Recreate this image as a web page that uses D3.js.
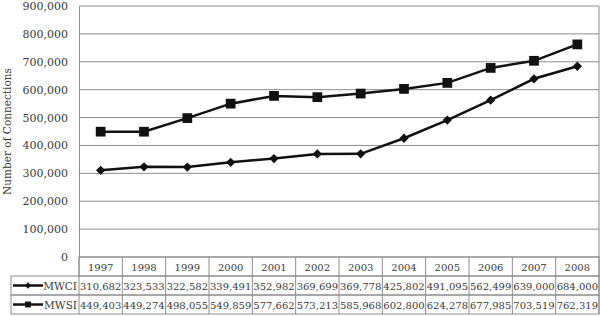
<!DOCTYPE html>
<html>
<head>
<meta charset="utf-8">
<script src="https://cdn.jsdelivr.net/npm/d3@7"></script>
<style>
body { margin: 0; background: #fff; }
text { font-family: "DejaVu Serif", serif; fill: #3a3a3a; }
</style>
</head>
<body>
<script>
var years = ["1997", "1998", "1999", "2000", "2001", "2002", "2003", "2004", "2005", "2006", "2007", "2008"];
var mwci = [310682, 323533, 322582, 339491, 352982, 369699, 369778, 425802, 491095, 562499, 639000, 684000];
var mwsi = [449403, 449274, 498055, 549859, 577662, 573213, 585968, 602800, 624278, 677985, 703519, 762319];
var yTicks = [0, 100000, 200000, 300000, 400000, 500000, 600000, 700000, 800000, 900000];

var width = 600, height = 317;
var margin = {top: 6, left: 79, right: 1, bottom: 60};
var plotW = width - margin.left - margin.right;
var plotH = 257 - margin.top;
var rowH = 19;
var fmt = d3.format(",");

var svg = d3.select("body").append("svg")
    .attr("width", width)
    .attr("height", height);

var g = svg.append("g")
    .attr("transform", "translate(" + margin.left + "," + margin.top + ")");

var xScale = d3.scaleBand()
    .domain(years)
    .range([0, plotW]);

var yScale = d3.scaleLinear()
    .domain([0, 900000])
    .range([plotH, 0]);

// gridlines
g.append("g")
    .selectAll("line")
    .data(yTicks)
    .enter()
    .append("line")
        .attr("x1", 0)
        .attr("x2", plotW)
        .attr("y1", d => yScale(d))
        .attr("y2", d => yScale(d))
        .attr("stroke", "#8c8c8c")
        .attr("stroke-width", 1);

// y axis
var yAxisCall = d3.axisLeft(yScale)
    .tickValues(yTicks)
    .tickSize(0)
    .tickPadding(11)
    .tickFormat(fmt);

var yAxis = g.append("g").call(yAxisCall);
yAxis.select(".domain").attr("stroke", "#8c8c8c");
yAxis.selectAll("text")
    .style("font-size", "11px")
    .style("font-family", "DejaVu Serif")
    .attr("fill", "#3a3a3a");

g.append("line")
    .attr("x1", plotW).attr("x2", plotW)
    .attr("y1", 0).attr("y2", plotH)
    .attr("stroke", "#8c8c8c");

svg.append("text")
    .text("Number of Connections")
    .attr("text-anchor", "middle")
    .attr("transform", "translate(11," + (margin.top + plotH / 2) + ") rotate(-90)")
    .style("font-size", "10.5px");

// lines
var line = d3.line()
    .x((d, i) => xScale(years[i]) + xScale.bandwidth() / 2)
    .y(d => yScale(d));

g.append("path")
    .datum(mwci)
    .attr("d", line)
    .attr("fill", "none")
    .attr("stroke", "#111")
    .attr("stroke-width", 2.5);

g.append("path")
    .datum(mwsi)
    .attr("d", line)
    .attr("fill", "none")
    .attr("stroke", "#111")
    .attr("stroke-width", 2.5);

var diamond = d3.symbol().type(d3.symbolDiamond2).size(55);
var square = d3.symbol().type(d3.symbolSquare).size(95);

g.selectAll(".ci")
    .data(mwci)
    .enter()
    .append("path")
        .attr("class", "ci")
        .attr("d", diamond)
        .attr("fill", "#111")
        .attr("transform", (d, i) => "translate(" + (xScale(years[i]) + xScale.bandwidth() / 2) + "," + yScale(d) + ")");

g.selectAll(".si")
    .data(mwsi)
    .enter()
    .append("path")
        .attr("class", "si")
        .attr("d", square)
        .attr("fill", "#111")
        .attr("transform", (d, i) => "translate(" + (xScale(years[i]) + xScale.bandwidth() / 2) + "," + yScale(d) + ")");

// data table
var tb = svg.append("g")
    .attr("transform", "translate(" + margin.left + "," + (margin.top + plotH) + ")");
var legendLeft = 11 - margin.left;
var border = "#8c8c8c";

// header row
tb.append("rect")
    .attr("x", 0).attr("y", 0)
    .attr("width", plotW).attr("height", rowH)
    .attr("fill", "none").attr("stroke", border);

tb.append("g")
    .selectAll("line")
    .data(years)
    .enter()
    .append("line")
        .attr("x1", d => xScale(d)).attr("x2", d => xScale(d))
        .attr("y1", 0).attr("y2", rowH * 3)
        .attr("stroke", border);

tb.append("line")
    .attr("x1", plotW).attr("x2", plotW)
    .attr("y1", 0).attr("y2", rowH * 3)
    .attr("stroke", border);

tb.selectAll(".yr")
    .data(years)
    .enter()
    .append("text")
        .attr("class", "yr")
        .text(d => d)
        .attr("x", d => xScale(d) + xScale.bandwidth() / 2)
        .attr("y", rowH / 2 + 4)
        .attr("text-anchor", "middle")
        .style("font-size", "10px");

var rows = [
    {name: "MWCI", values: mwci, symbol: diamond},
    {name: "MWSI", values: mwsi, symbol: square}
];

rows.forEach(function(r, k) {
    var y0 = rowH * (k + 1);
    tb.append("rect")
        .attr("x", legendLeft).attr("y", y0)
        .attr("width", plotW - legendLeft).attr("height", rowH)
        .attr("fill", "none").attr("stroke", border);

    tb.append("line")
        .attr("x1", legendLeft + 2).attr("x2", legendLeft + 32)
        .attr("y1", y0 + rowH / 2).attr("y2", y0 + rowH / 2)
        .attr("stroke", "#111").attr("stroke-width", 2.5);

    tb.append("path")
        .attr("d", r.symbol.size(k === 0 ? 25 : 35))
        .attr("fill", "#111")
        .attr("transform", "translate(" + (legendLeft + 17) + "," + (y0 + rowH / 2) + ")");

    tb.append("text")
        .text(r.name)
        .attr("x", -2)
        .attr("y", y0 + rowH / 2 + 4)
        .attr("text-anchor", "end")
        .style("font-size", "10.5px");

    tb.selectAll(".v" + k)
        .data(r.values)
        .enter()
        .append("text")
            .attr("class", "v" + k)
            .text(d => fmt(d))
            .attr("x", (d, i) => xScale(years[i]) + xScale.bandwidth() / 2)
            .attr("y", y0 + rowH / 2 + 4)
            .attr("text-anchor", "middle")
            .style("font-size", "10px");
});
</script>
</body>
</html>
